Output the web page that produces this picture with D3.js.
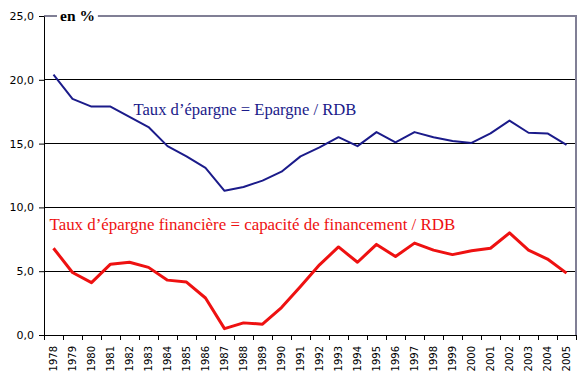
<!DOCTYPE html>
<html><head><meta charset="utf-8">
<script src="https://cdn.jsdelivr.net/npm/d3@7"></script>
<style>body{margin:0;background:#fff}svg{display:block}
.serif{font-family:"Liberation Serif","Times New Roman","DejaVu Serif",serif}
.sans{font-family:Verdana,"DejaVu Sans",sans-serif}</style>
</head><body>
<svg id="c" width="583" height="380"></svg>
<script>
const years = ["1978","1979","1980","1981","1982","1983","1984","1985","1986","1987","1988","1989","1990","1991","1992","1993","1994","1995","1996","1997","1998","1999","2000","2001","2002","2003","2004","2005"];
const tauxEpargne = [20.4,18.5,17.9,17.9,17.1,16.3,14.8,14.0,13.1,11.3,11.6,12.1,12.8,14.0,14.7,15.5,14.8,15.9,15.1,15.9,15.5,15.2,15.05,15.8,16.8,15.85,15.8,14.9];
const tauxFinancier = [6.8,4.9,4.1,5.55,5.7,5.3,4.3,4.15,2.9,0.5,0.95,0.85,2.15,3.8,5.5,6.9,5.7,7.1,6.15,7.2,6.65,6.3,6.6,6.8,8.0,6.65,5.95,4.85];
const yTicks = [0,5,10,15,20,25];
const labelEpargne = "Taux d\u2019épargne = Epargne / RDB";
const labelFinancier = "Taux d\u2019épargne financière = capacité de financement / RDB";
const unitLabel = "en %";

const svg = d3.select("#c");
const L = 44, R = 576, T = 16, B = 335;
const x = d3.scaleBand().domain(years).range([L, R]);
const y = d3.scaleLinear().domain([0, 25]).range([B, T]);
const fmt = v => d3.format(".1f")(v).replace(".", ",");

// gridlines
svg.append("g").selectAll("line").data(yTicks.filter(d => d > 0 && d < 25)).join("line")
  .attr("x1", L).attr("x2", R).attr("y1", d => y(d)).attr("y2", d => y(d))
  .attr("stroke", "#000").attr("stroke-width", 1).attr("shape-rendering", "crispEdges");
// plot border top/right (grey)
svg.append("path").attr("d", `M${L},${y(25)}H${R}V${B}`).attr("fill", "none")
  .attr("stroke", "#807f95").attr("stroke-width", 1.2).attr("shape-rendering", "crispEdges");

// y axis
const yAxis = svg.append("g").attr("transform", `translate(${L},0)`)
  .call(d3.axisLeft(y).tickValues(yTicks).tickFormat(fmt).tickSize(5).tickSizeOuter(0));
yAxis.attr("font-family", null);
yAxis.select(".domain").attr("stroke", "#000");
yAxis.selectAll("text").attr("class", "sans").attr("font-size", 11).attr("fill", "#000").attr("dx", -2);

// x axis
const xAxis = svg.append("g").attr("transform", `translate(0,${B})`)
  .call(d3.axisBottom(x).tickSize(0).tickSizeOuter(0));
xAxis.attr("font-family", null);
xAxis.select(".domain").attr("stroke", "#000");
xAxis.selectAll(".tick text")
  .attr("class", "sans").attr("font-size", 10).attr("fill", "#000")
  .attr("transform", "rotate(-90)").attr("text-anchor", "end")
  .attr("x", -11).attr("y", 0).attr("dy", "0.35em");
// tick marks at band edges
svg.append("g").selectAll("line").data(years.concat(["end"])).join("line")
  .attr("x1", (d, i) => L + i * x.step()).attr("x2", (d, i) => L + i * x.step())
  .attr("y1", B).attr("y2", B + 5).attr("stroke", "#000").attr("shape-rendering", "crispEdges");

const line = d3.line().x((d, i) => x(years[i]) + x.bandwidth() / 2).y(d => y(d));
svg.append("path").datum(tauxEpargne).attr("d", line).attr("fill", "none")
  .attr("stroke", "#1b1b8a").attr("stroke-width", 2).attr("stroke-linejoin", "round");
svg.append("path").datum(tauxFinancier).attr("d", line).attr("fill", "none")
  .attr("stroke", "#ee1111").attr("stroke-width", 3).attr("stroke-linejoin", "round");

// unit label with white background
const ulBg = svg.append("rect").attr("fill", "#fff");
const ul = svg.append("text").attr("class", "serif").attr("x", 60).attr("y", y(25) + 4.5)
  .attr("font-weight", "bold").attr("font-size", 15.5).attr("fill", "#000").text(unitLabel);
const bb = ul.node().getBBox();
ulBg.attr("x", bb.x - 3).attr("y", bb.y).attr("width", bb.width + 6).attr("height", bb.height);

svg.append("text").attr("class", "serif").attr("x", 133.5).attr("y", 114.5)
  .attr("font-size", 16.6).attr("fill", "#1b1b8a").text(labelEpargne);
svg.append("text").attr("class", "serif").attr("x", 49.5).attr("y", 229.5)
  .attr("font-size", 16.9).attr("fill", "#ee1111").text(labelFinancier);
</script>
</body></html>
